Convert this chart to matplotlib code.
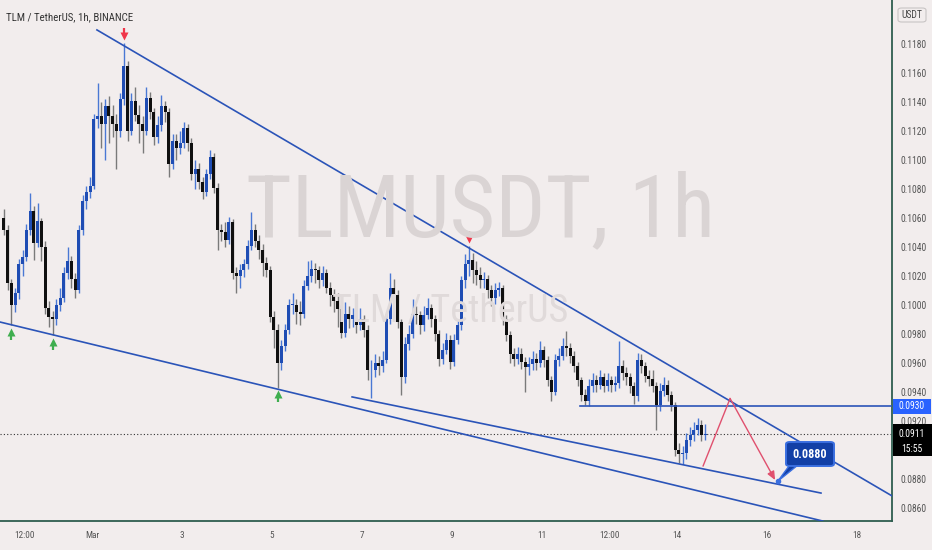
import matplotlib
matplotlib.use("Agg")
import matplotlib.pyplot as plt
import matplotlib.transforms as mtrans
from matplotlib.patches import Rectangle, FancyBboxPatch, Polygon
from matplotlib import font_manager
import numpy as np

# ---------------- data (2-hour candles, x in days from Mar 1 00:00) ----------------
first_open = 0.1060
start_day = -2.0
bar_days = 2 / 24

closes = [
    0.1052, 0.1015, 0.1000, 0.1008, 0.1028, 0.1033, 0.1052, 0.1065, 0.1043, 0.1058,
    0.1040, 0.0998, 0.0992, 0.0990, 0.1000, 0.1005, 0.1022, 0.1030, 0.1018, 0.1010,
    0.1052, 0.1072, 0.1078, 0.1082, 0.1128, 0.1130, 0.1125, 0.1137, 0.1130, 0.1125,
    0.1120, 0.1142, 0.1165, 0.1120, 0.1141, 0.1131, 0.1125, 0.1120, 0.1143, 0.1133,
    0.1116, 0.1124, 0.1137, 0.1133, 0.1097, 0.1113, 0.1108, 0.1112, 0.1122, 0.1112,
    0.1090, 0.1094, 0.1085, 0.1078, 0.1090, 0.1102, 0.1081, 0.1052, 0.1050, 0.1045,
    0.1057, 0.1022, 0.1020, 0.1024, 0.1028, 0.1041, 0.1052, 0.1044, 0.1038, 0.1029,
    0.1024, 0.0992, 0.0983, 0.0960, 0.0972, 0.0983, 0.1000, 0.1000, 0.0995, 0.0994,
    0.1013, 0.1020, 0.1025, 0.1024, 0.1017, 0.1022, 0.1012, 0.1007, 0.1003, 0.0997,
    0.0981, 0.0994, 0.0990, 0.0993, 0.0986, 0.0990, 0.0983, 0.0955, 0.0955, 0.0960,
    0.0958, 0.0962, 0.0990, 0.1012, 0.1007, 0.0988, 0.0950, 0.0973, 0.0980, 0.0994,
    0.0993, 0.0986, 0.0993, 0.0998, 0.0990, 0.0980, 0.0963, 0.0969, 0.0976, 0.0961,
    0.0976, 0.0986, 0.1017, 0.1028, 0.1031, 0.1024, 0.1021, 0.1017, 0.1018, 0.1010,
    0.1005, 0.1010, 0.1012, 0.0990, 0.0979, 0.0966, 0.0963, 0.0966, 0.0961, 0.0957,
    0.0959, 0.0963, 0.0960, 0.0969, 0.0962, 0.0948, 0.0940, 0.0962, 0.0965, 0.0972,
    0.0970, 0.0965, 0.0958, 0.0948, 0.0938, 0.0934, 0.0944, 0.0948, 0.0945, 0.0950,
    0.0944, 0.0948, 0.0945, 0.0946, 0.0958, 0.0953, 0.0950, 0.0944, 0.0937, 0.0962,
    0.0958, 0.0951, 0.0949, 0.0944, 0.0931, 0.0941, 0.0945, 0.0938, 0.0931, 0.0900,
    0.0897, 0.0898, 0.0907, 0.0910, 0.0914, 0.0917, 0.0910, 0.0911,
]
highs = [
    0.1066, 0.1055, 0.1018, 0.1012, 0.1032, 0.1038, 0.1056, 0.1077, 0.1068, 0.1070,
    0.1060, 0.1044, 0.1003, 0.0996, 0.1004, 0.1012, 0.1026, 0.1040, 0.1034, 0.1022,
    0.1055, 0.1076, 0.1082, 0.1088, 0.1132, 0.1153, 0.1140, 0.1142, 0.1144, 0.1138,
    0.1132, 0.1146, 0.1181, 0.1168, 0.1146, 0.1150, 0.1138, 0.1130, 0.1150, 0.1147,
    0.1136, 0.1130, 0.1145, 0.1141, 0.1136, 0.1118, 0.1118, 0.1120, 0.1126, 0.1125,
    0.1115, 0.1100, 0.1098, 0.1088, 0.1094, 0.1107, 0.1105, 0.1084, 0.1056, 0.1057,
    0.1061, 0.1059, 0.1026, 0.1028, 0.1032, 0.1045, 0.1064, 0.1056, 0.1048, 0.1042,
    0.1033, 0.1027, 0.0996, 0.0987, 0.0976, 0.0987, 0.1004, 0.1008, 0.1004, 0.1003,
    0.1017, 0.1030, 0.1031, 0.1029, 0.1027, 0.1027, 0.1025, 0.1016, 0.1011, 0.1008,
    0.1000, 0.1002, 0.0999, 0.0998, 0.0996, 0.0998, 0.0993, 0.0986, 0.0962, 0.0966,
    0.0965, 0.0968, 0.0994, 0.1022, 0.1018, 0.1010, 0.0990, 0.0978, 0.0986, 0.1004,
    0.0999, 0.0996, 0.0999, 0.1005, 0.1001, 0.0993, 0.0983, 0.0974, 0.0981, 0.0979,
    0.0980, 0.0990, 0.1020, 0.1035, 0.1041, 0.1036, 0.1030, 0.1026, 0.1023, 0.1021,
    0.1014, 0.1015, 0.1016, 0.1014, 0.0993, 0.0982, 0.0970, 0.0971, 0.0970, 0.0964,
    0.0964, 0.0968, 0.0967, 0.0975, 0.0972, 0.0965, 0.0951, 0.0966, 0.0970, 0.0977,
    0.0982, 0.0974, 0.0968, 0.0961, 0.0950, 0.0942, 0.0949, 0.0953, 0.0952, 0.0955,
    0.0953, 0.0953, 0.0951, 0.0951, 0.0975, 0.0962, 0.0957, 0.0953, 0.0947, 0.0967,
    0.0966, 0.0961, 0.0955, 0.0955, 0.0947, 0.0946, 0.0950, 0.0948, 0.0941, 0.0933,
    0.0905, 0.0903, 0.0912, 0.0916, 0.0919, 0.0922, 0.0921, 0.0918,
]
lows = [
    0.1048, 0.1010, 0.0986, 0.0995, 0.1004, 0.1020, 0.1030, 0.1048, 0.1031, 0.1040,
    0.1030, 0.0994, 0.0985, 0.0979, 0.0986, 0.0996, 0.1002, 0.1018, 0.1012, 0.1005,
    0.1008, 0.1048, 0.1066, 0.1074, 0.1080, 0.1122, 0.1108, 0.1100, 0.1112, 0.1116,
    0.1094, 0.1116, 0.1138, 0.1113, 0.1117, 0.1127, 0.1112, 0.1105, 0.1117, 0.1128,
    0.1110, 0.1112, 0.1120, 0.1126, 0.1088, 0.1094, 0.1100, 0.1104, 0.1108, 0.1106,
    0.1086, 0.1080, 0.1080, 0.1073, 0.1075, 0.1087, 0.1077, 0.1038, 0.1044, 0.1040,
    0.1042, 0.1018, 0.1008, 0.1012, 0.1019, 0.1025, 0.1038, 0.1040, 0.1032, 0.1020,
    0.1019, 0.0988, 0.0970, 0.0943, 0.0955, 0.0968, 0.0980, 0.0994, 0.0987, 0.0986,
    0.0991, 0.1010, 0.1016, 0.1015, 0.1012, 0.1013, 0.1008, 0.0999, 0.0995, 0.0985,
    0.0977, 0.0978, 0.0984, 0.0985, 0.0981, 0.0983, 0.0978, 0.0948, 0.0936, 0.0950,
    0.0952, 0.0954, 0.0960, 0.0987, 0.1002, 0.0984, 0.0938, 0.0946, 0.0969, 0.0977,
    0.0987, 0.0980, 0.0982, 0.0990, 0.0985, 0.0975, 0.0958, 0.0959, 0.0966, 0.0956,
    0.0958, 0.0973, 0.0983, 0.1012, 0.1020, 0.1015, 0.1014, 0.1012, 0.1012, 0.1005,
    0.0999, 0.1001, 0.1006, 0.0986, 0.0975, 0.0960, 0.0958, 0.0959, 0.0956, 0.0940,
    0.0952, 0.0955, 0.0955, 0.0957, 0.0957, 0.0944, 0.0934, 0.0938, 0.0958, 0.0962,
    0.0965, 0.0960, 0.0954, 0.0944, 0.0934, 0.0931, 0.0930, 0.0940, 0.0940, 0.0942,
    0.0940, 0.0941, 0.0940, 0.0941, 0.0943, 0.0948, 0.0945, 0.0939, 0.0932, 0.0934,
    0.0953, 0.0947, 0.0944, 0.0940, 0.0914, 0.0927, 0.0937, 0.0934, 0.0927, 0.0896,
    0.0891, 0.0890, 0.0894, 0.0903, 0.0906, 0.0910, 0.0906, 0.0907,
]

# pivot candles marked with arrows
pivot_low_idx = [2, 13, 73]
pivot_high_idx = [32, 124]

price_ticks = [0.1180, 0.1160, 0.1140, 0.1120, 0.1100, 0.1080, 0.1060, 0.1040,
               0.1020, 0.1000, 0.0980, 0.0960, 0.0940, 0.0920, 0.0880, 0.0860]
time_tick_pos = [-1.5, 0, 2, 4, 6, 8, 10, 11.5, 13, 15, 17]
time_tick_labels = ["12:00", "Mar", "3", "5", "7", "9", "11", "12:00", "14", "16", "18"]

last_price = 0.0911
countdown = "15:55"
level_price = 0.0930
level_start = 10.84
target_price = 0.0880

# drawings: (day, price) anchors
upper_trend = [(0.11, 0.11897), (17.78, 0.08683)]
lower_trend = [(-2.05, 0.09883), (16.24, 0.08510)]
lower_trend2 = [(5.78, 0.09366), (16.20, 0.08703)]
projection = [(13.58, 0.08890), (14.18, 0.09355), (15.18, 0.08793)]
callout_tip = (15.244, 0.08786)

# ---------------- style ----------------
bg = "#f2eded"
blue_line = "#2b54b8"
up_body, up_wick = "#1f4db4", "#4a78d4"
dn_body, dn_wick = "#101010", "#7a7a7a"
axis_col = "#2f5d4f"
txt_col = "#555555"

# prefer a narrow sans for TradingView-like labels
names = {f.name for f in font_manager.fontManager.ttflist}
family = "Liberation Sans"
for cand in ["Liberation Sans Narrow", "Arial Narrow", "Roboto Condensed",
             "Open Sans Condensed", "Noto Sans Condensed", "Noto Sans Display Condensed"]:
    if cand in names:
        family = cand
        break
plt.rcParams["font.family"] = [family, "DejaVu Sans"]

W, H = 932, 550
fig = plt.figure(figsize=(W / 100, H / 100), dpi=100, facecolor=bg)
renderer = fig.canvas.get_renderer()


def fit_size(text, target_w, weight="normal"):
    t = fig.text(0, 0, text, fontsize=10, fontweight=weight)
    w = t.get_window_extent(renderer).width
    t.remove()
    return 10 * target_w / w


ax = fig.add_axes([0, (H - 521) / H, 892 / W, 521 / H])
ax.set_facecolor(bg)
ax.set_xlim(-2.0444, 17.778)
ax.set_ylim(0.085103, 0.121034)

for s in ["top", "left"]:
    ax.spines[s].set_visible(False)
for s in ["right", "bottom"]:
    ax.spines[s].set_color(axis_col)
    ax.spines[s].set_linewidth(1.3)

# watermark
fig.text(480 / W, 1 - 212 / H, "TLMUSDT, 1h", ha="center", va="center",
         fontsize=fit_size("TLMUSDT, 1h", 470), color="#dad4d4", zorder=0)
fig.text(450 / W, 1 - 312 / H, "TLM / TetherUS", ha="center", va="center",
         fontsize=fit_size("TLM / TetherUS", 236), color="#e0dada", zorder=0)

# candles
c = np.array(closes)
o = np.array([first_open] + closes[:-1])
hi = np.array(highs)
lo = np.array(lows)
x = start_day + np.arange(len(c)) * bar_days + bar_days / 2
up = c >= o
bw = 0.062
for mask, bc, wc in [(up, up_body, up_wick), (~up, dn_body, dn_wick)]:
    ax.vlines(x[mask], lo[mask], hi[mask], color=wc, lw=1.0, zorder=3)
    bottom = np.minimum(o, c)[mask]
    height = np.maximum(np.abs(c - o)[mask], 0.00005)
    ax.bar(x[mask], height, bottom=bottom, width=bw, color=bc, lw=0, zorder=4)

# trend lines
for line in [upper_trend, lower_trend, lower_trend2]:
    (x0, y0), (x1, y1) = line
    ax.plot([x0, x1], [y0, y1], color=blue_line, lw=1.2, zorder=5)
ax.plot([level_start, 17.778], [level_price, level_price], color=blue_line, lw=1.2, zorder=5)

# last price dotted line
ax.axhline(last_price, color="#333333", lw=0.8, ls=(0, (1, 2)), zorder=2)

# projection
px = [p[0] for p in projection]
py = [p[1] for p in projection]
ax.plot(px[:2], py[:2], color="#e0506e", lw=1.0, zorder=6)
ax.annotate("", xy=(px[2], py[2]), xytext=(px[1], py[1]),
            arrowprops=dict(arrowstyle="-|>,head_length=0.5,head_width=0.22",
                            color="#e0506e", lw=1.0, shrinkA=0, shrinkB=0), zorder=6)

# callout (box placed in pixels, tail to the target point)
box_l, box_t, box_w, box_h = 786, 442, 48, 24
tail = Polygon([(15.53, 0.08907), (15.73, 0.08907), callout_tip], closed=True,
               fc="#123fa6", ec="#3b6fe0", lw=1.0, zorder=7)
ax.add_patch(tail)
ax.plot([callout_tip[0]], [callout_tip[1]], "o", ms=3, color="#3b6fe0", zorder=8)
fig.add_artist(FancyBboxPatch((box_l / W, 1 - (box_t + box_h) / H), box_w / W, box_h / H,
                              boxstyle="round,pad=0,rounding_size=0.004",
                              transform=fig.transFigure, fc="#123fa6", ec="#3b6fe0",
                              lw=1.4, zorder=9))
fig.text((box_l + box_w / 2) / W, 1 - (box_t + box_h / 2) / H, f"{target_price:.4f}",
         ha="center", va="center", fontsize=fit_size("0.0880", 34, "bold"),
         fontweight="bold", color="white", zorder=10)

# pivot arrows (head marker + short shaft, offset in points from the wick end)
def off(dy):
    return mtrans.offset_copy(ax.transData, fig=fig, x=0, y=dy, units="points")

for i in pivot_low_idx:
    ax.plot([x[i]], [lo[i]], marker="^", ms=5.5, color="#3fae4f", mec="none",
            transform=off(-4.5), zorder=8)
    ax.plot([x[i]], [lo[i]], marker="|", ms=5, mew=1.6, color="#3fae4f",
            transform=off(-8.5), zorder=8)
for i in pivot_high_idx:
    ax.plot([x[i]], [hi[i]], marker="v", ms=5.5, color="#f0364a", mec="none",
            transform=off(4.5), zorder=8)
    ax.plot([x[i]], [hi[i]], marker="|", ms=5, mew=1.6, color="#f0364a",
            transform=off(8.5), zorder=8)

# axes ticks
lab_fs = fit_size("0.1180", 26)
time_fs = fit_size("12:00", 20)
ax.set_xticks(time_tick_pos)
ax.set_xticklabels(time_tick_labels)
ax.yaxis.tick_right()
ax.set_yticks(price_ticks)
ax.set_yticklabels([f"{p:.4f}" for p in price_ticks])
ax.tick_params(axis="x", length=0, pad=7, labelsize=time_fs, labelcolor=txt_col)
ax.tick_params(axis="y", length=0, pad=6, labelsize=lab_fs, labelcolor=txt_col)

# price-axis boxes
bt = mtrans.blended_transform_factory(fig.transFigure, ax.transData)
ax_pp = (0.121034 - 0.085103) / 521  # price per pixel
fig.add_artist(Rectangle((893 / W, level_price - 7.5 * ax_pp), 38 / W, 15 * ax_pp,
                         transform=bt, fc="#2962ff", ec="none", zorder=10, clip_on=False))
fig.text(912 / W, level_price, f"{level_price:.4f}", transform=bt, ha="center", va="center",
         fontsize=lab_fs, color="white", zorder=11)
fig.add_artist(Rectangle((893 / W, last_price - 22 * ax_pp), 39 / W, 32 * ax_pp,
                         transform=bt, fc="#000000", ec="none", zorder=10, clip_on=False))
fig.text(912 / W, last_price, f"{last_price:.4f}", transform=bt, ha="center", va="center",
         fontsize=lab_fs, color="white", zorder=11)
fig.text(912 / W, last_price - 14.5 * ax_pp, countdown, transform=bt, ha="center", va="center",
         fontsize=lab_fs, color="white", zorder=11)

# currency badge
fig.add_artist(FancyBboxPatch((898 / W, 1 - 22 / H), 28 / W, 14 / H,
                              boxstyle="round,pad=0,rounding_size=0.004",
                              transform=fig.transFigure, fc=bg, ec="#c8c4c4", lw=0.8))
fig.text(912 / W, 1 - 15 / H, "USDT", ha="center", va="center",
         fontsize=fit_size("USDT", 21), color="#444444")

# title
fig.text(6 / W, 1 - 17 / H, "TLM / TetherUS, 1h, BINANCE", ha="left", va="center",
         fontsize=fit_size("TLM / TetherUS, 1h, BINANCE", 127), color="#333333")

fig.savefig("out.png", dpi=100, facecolor=bg)
